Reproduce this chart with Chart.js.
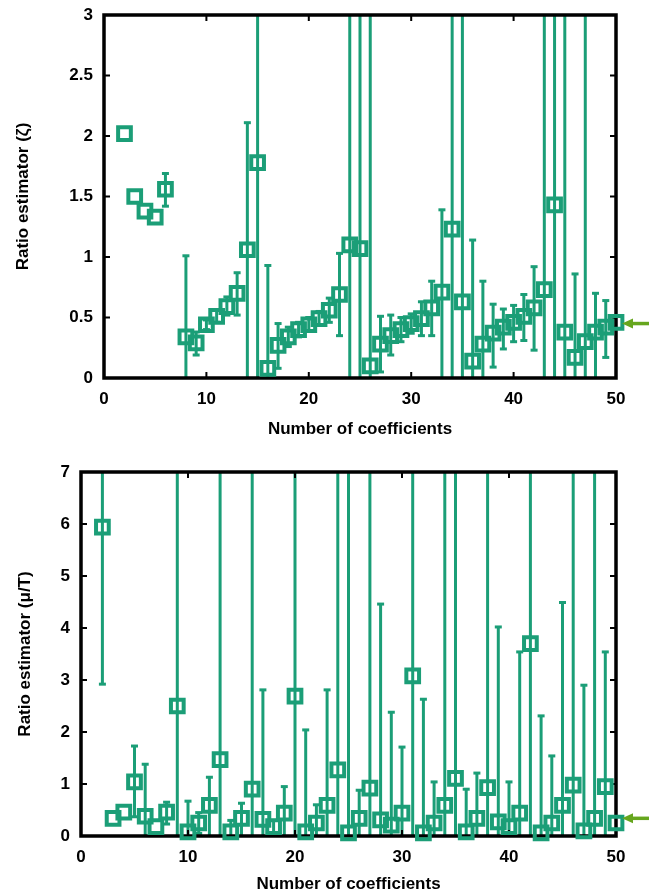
<!DOCTYPE html>
<html>
<head>
<meta charset="utf-8">
<script src="https://cdn.jsdelivr.net/npm/chart.js@4.4.1/dist/chart.umd.min.js"></script>
<style>
  body { margin: 0; background: #fff; }
  .wrap { position: absolute; left: 0; width: 654px; }
</style>
</head>
<body>
<div class="wrap" style="top:0;height:447px"><canvas id="zetaChart"></canvas></div>
<div class="wrap" style="top:447px;height:448px"><canvas id="muChart"></canvas></div>
<script>
// number of coefficients, 2..50
const coeffs = [2,3,4,5,6,7,8,9,10,11,12,13,14,15,16,17,18,19,20,21,22,23,24,25,26,
                27,28,29,30,31,32,33,34,35,36,37,38,39,40,41,42,43,44,45,46,47,48,49,50];

// top panel: ratio estimator for zeta (null = not shown)
const zetaValues = [2.02,1.50,1.38,1.33,1.56,null,0.34,0.29,0.44,0.51,0.59,0.70,1.06,1.78,0.08,
                    0.27,0.34,0.40,0.44,0.49,0.56,0.69,1.10,1.07,0.10,0.28,0.35,0.40,0.45,0.49,
                    0.58,0.71,1.23,0.63,0.14,0.28,0.37,0.42,0.46,0.51,0.58,0.73,1.43,0.38,0.17,
                    0.30,0.38,0.42,0.46];
const zetaLow  = [null,null,null,null,1.42,null,-1,0.19,0.40,0.46,0.52,0.52,-1,-1,-1,
                  0.08,0.26,0.34,0.39,0.44,0.46,0.35,-1,-1,-1,0.05,0.19,0.30,0.37,0.35,
                  0.35,-1,-1,-1,-1,-1,0.09,0.24,0.30,0.31,0.23,-1,-1,-1,-1,
                  -1,-1,0.17,0.42];
const zetaHigh = [null,null,null,null,1.69,null,1.01,0.38,0.48,0.56,0.67,0.87,2.11,9,0.93,
                  0.45,0.42,0.46,0.50,0.55,0.66,1.03,9,9,9,0.51,0.52,0.50,0.53,0.63,
                  0.80,1.39,9,9,1.14,0.80,0.61,0.57,0.60,0.69,0.92,9,9,9,0.86,
                  9,0.70,0.64,0.50];
const zetaRef = 0.45;

// bottom panel: ratio estimator for mu/T
const muValues = [5.94,0.34,0.46,1.04,0.38,0.18,0.46,2.50,0.08,0.25,0.59,1.47,0.08,0.34,0.90,
                  0.32,0.18,0.44,2.69,0.08,0.25,0.59,1.27,0.06,0.34,0.92,0.31,0.21,0.44,3.08,
                  0.06,0.25,0.59,1.11,0.08,0.34,0.93,0.27,0.18,0.44,3.70,0.06,0.25,0.59,0.98,
                  0.10,0.34,0.95,0.25];
const muLow  = [2.92,null,null,0.37,-1,null,0.23,-1,-1,0.05,0.0,-1,-1,-1,-1,
                -1,0.06,0.0,-1,-1,-1,-1,-1,-1,-1,-1,-1,-1,-1,-1,
                -1,-1,-1,-1,-1,-1,-1,-1,-1,-1,-1,-1,-1,-1,-1,
                -1,-1,-1,null];
const muHigh = [20,null,null,1.73,1.38,null,0.65,20,0.67,0.45,1.13,20,0.30,0.63,20,
                2.81,0.30,0.95,20,2.04,0.60,2.81,20,20,0.88,20,4.46,2.38,1.71,20,
                2.63,1.04,20,20,0.90,1.21,20,4.02,1.04,3.54,20,2.31,1.54,4.49,20,
                2.90,20,3.54,null];
const muRef = 0.34;

const GREEN = '#1b9e77';
const ARROW = '#66a61e';
const FONT = { family: '"Liberation Sans", Arial, sans-serif', size: 17, weight: 'bold' };

const errorBars = {
    id: 'errorBars',
    beforeDatasetsDraw(chart, args, opts) {
        const { ctx, chartArea: a, scales: { x, y } } = chart;
        ctx.save();
        ctx.beginPath();
        ctx.rect(a.left, a.top, a.right - a.left, a.bottom - a.top);
        ctx.clip();
        ctx.strokeStyle = GREEN;
        ctx.lineWidth = 3;
        opts.low.forEach((lo, i) => {
            const hi = opts.high[i];
            if (lo === null || hi === null || opts.values[i] === null) return;
            const px = x.getPixelForValue(coeffs[i]);
            const yl = y.getPixelForValue(lo), yh = y.getPixelForValue(hi);
            ctx.beginPath();
            ctx.moveTo(px, yl);
            ctx.lineTo(px, yh);
            ctx.stroke();
            [[lo, yl], [hi, yh]].forEach(([v, py]) => {
                if (v > y.min && v < y.max) {
                    ctx.beginPath();
                    ctx.moveTo(px - 3.5, py);
                    ctx.lineTo(px + 3.5, py);
                    ctx.stroke();
                }
            });
        });
        ctx.restore();
    }
};

const frame = {
    id: 'frame',
    beforeDatasetsDraw(chart) {
        const { ctx, chartArea: a, scales: { x, y } } = chart;
        ctx.save();
        ctx.strokeStyle = '#000';
        ctx.lineWidth = 2;
        const t = 6;
        x.ticks.forEach(tk => {
            const px = x.getPixelForValue(tk.value);
            ctx.beginPath();
            ctx.moveTo(px, a.bottom); ctx.lineTo(px, a.bottom - t);
            ctx.moveTo(px, a.top); ctx.lineTo(px, a.top + t);
            ctx.stroke();
        });
        y.ticks.forEach(tk => {
            const py = y.getPixelForValue(tk.value);
            ctx.beginPath();
            ctx.moveTo(a.left, py); ctx.lineTo(a.left + t, py);
            ctx.moveTo(a.right, py); ctx.lineTo(a.right - t, py);
            ctx.stroke();
        });
        ctx.lineWidth = 3.5;
        ctx.strokeRect(a.left, a.top, a.right - a.left, a.bottom - a.top);
        ctx.restore();
    },
    afterDraw(chart, args, opts) {
        // reference arrow on the right
        const { ctx, chartArea: a, scales: { y } } = chart;
        const ay = y.getPixelForValue(opts.ref);
        ctx.save();
        ctx.strokeStyle = ARROW;
        ctx.fillStyle = ARROW;
        ctx.lineWidth = 3.5;
        ctx.beginPath();
        ctx.moveTo(a.right + 16, ay); ctx.lineTo(a.right + 33, ay);
        ctx.stroke();
        ctx.beginPath();
        ctx.moveTo(a.right + 6, ay);
        ctx.lineTo(a.right + 17, ay - 5);
        ctx.lineTo(a.right + 17, ay + 5);
        ctx.closePath();
        ctx.fill();
        ctx.restore();
    }
};

function makeChart(id, values, low, high, ref, cfg) {
    const ctx = document.getElementById(id).getContext('2d');
    return new Chart(ctx, {
        type: 'line',
        data: {
            datasets: [{
                data: coeffs.map((c, i) => ({ x: c, y: values[i] })),
                showLine: false,
                pointStyle: 'rect',
                pointRadius: 9,
                pointBorderWidth: 4,
                borderColor: GREEN,
                backgroundColor: 'rgba(255,255,255,0)',
                clip: false
            }]
        },
        options: {
            responsive: true,
            maintainAspectRatio: false,
            animation: false,
            layout: { padding: { top: cfg.top, right: 38, left: 0, bottom: 0 } },
            plugins: {
                legend: { display: false },
                tooltip: { enabled: false },
                errorBars: { values: values, low: low, high: high },
                frame: { ref: ref }
            },
            scales: {
                x: {
                    type: 'linear', min: 0, max: 50,
                    grid: { display: false, drawTicks: false },
                    border: { display: false },
                    ticks: { stepSize: 10, color: '#000', font: FONT, padding: 11 },
                    title: { display: true, text: 'Number of coefficients', color: '#000', font: FONT,
                             padding: { top: 0, bottom: cfg.xTitlePad } },
                    afterFit: s => { s.height = cfg.xHeight; }
                },
                y: {
                    min: 0, max: cfg.yMax,
                    grid: { display: false, drawTicks: false },
                    border: { display: false },
                    ticks: { stepSize: cfg.yStep, color: '#000', font: FONT, padding: 11,
                             callback: v => String(+v.toFixed(2)) },
                    title: { display: true, text: cfg.yTitle, color: '#000', font: FONT,
                             padding: { top: cfg.yTitlePad, bottom: 0 } },
                    afterFit: s => { s.width = cfg.yWidth; s.paddingTop = 0; s.paddingBottom = 0; }
                }
            }
        },
        plugins: [errorBars, frame]
    });
}

makeChart('zetaChart', zetaValues, zetaLow, zetaHigh, zetaRef, {
    top: 15, xHeight: 69, yWidth: 104, yMax: 3, yStep: 0.5,
    yTitle: 'Ratio estimator (\u03B6)', xTitlePad: 7, yTitlePad: 13
});
makeChart('muChart', muValues, muLow, muHigh, muRef, {
    top: 25, xHeight: 59, yWidth: 81, yMax: 7, yStep: 1,
    yTitle: 'Ratio estimator (\u03BC/T)', xTitlePad: 0, yTitlePad: 15
});
</script>
</body>
</html>
